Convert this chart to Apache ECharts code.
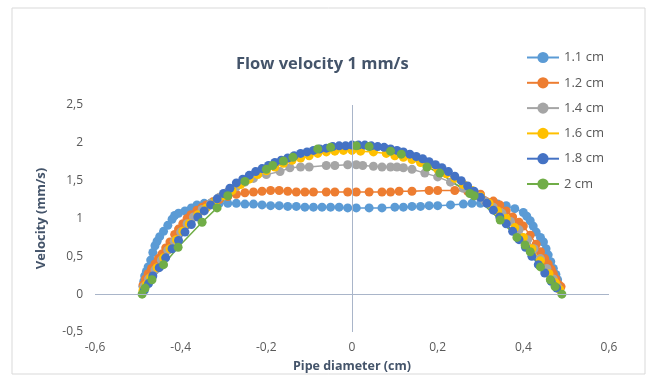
<!DOCTYPE html>
<html>
<head>
<meta charset="utf-8">
<script src="https://cdn.jsdelivr.net/npm/echarts@6/dist/echarts.min.js"></script>
<style>
  html, body { margin: 0; padding: 0; background: #fff; }
  #chart { width: 648px; height: 378px; }
</style>
</head>
<body>
<div id="chart"></div>
<script>
// [pipe diameter (cm), velocity (mm/s)]
const series11 = [[-0.488,0.1],[-0.486,0.17],[-0.484,0.24],[-0.48,0.3],[-0.476,0.36],[-0.47,0.45],[-0.465,0.55],[-0.46,0.64],[-0.455,0.7],[-0.449,0.76],[-0.44,0.83],[-0.43,0.91],[-0.42,0.99],[-0.414,1.04],[-0.405,1.07],[-0.39,1.1],[-0.375,1.14],[-0.362,1.18],[-0.345,1.2],[-0.33,1.2],[-0.31,1.2],[-0.29,1.2],[-0.27,1.2],[-0.25,1.19],[-0.23,1.19],[-0.21,1.18],[-0.19,1.17],[-0.17,1.17],[-0.15,1.16],[-0.13,1.16],[-0.11,1.15],[-0.09,1.15],[-0.07,1.15],[-0.05,1.15],[-0.03,1.15],[-0.01,1.14],[0.01,1.14],[0.04,1.14],[0.07,1.14],[0.1,1.15],[0.12,1.15],[0.14,1.16],[0.16,1.16],[0.18,1.17],[0.2,1.17],[0.23,1.18],[0.26,1.19],[0.28,1.2],[0.3,1.2],[0.32,1.2],[0.34,1.19],[0.36,1.17],[0.38,1.13],[0.4,1.08],[0.408,1.03],[0.416,0.97],[0.423,0.9],[0.43,0.82],[0.44,0.75],[0.447,0.69],[0.453,0.6],[0.458,0.52],[0.464,0.43],[0.47,0.34],[0.476,0.26],[0.48,0.19],[0.486,0.08]];
const series12 = [[-0.488,0.12],[-0.482,0.2],[-0.476,0.27],[-0.468,0.34],[-0.46,0.4],[-0.452,0.47],[-0.444,0.53],[-0.435,0.61],[-0.425,0.69],[-0.414,0.79],[-0.405,0.86],[-0.395,0.93],[-0.385,1.0],[-0.376,1.05],[-0.362,1.11],[-0.35,1.15],[-0.34,1.18],[-0.325,1.22],[-0.31,1.25],[-0.29,1.29],[-0.27,1.32],[-0.25,1.34],[-0.23,1.35],[-0.21,1.36],[-0.19,1.37],[-0.17,1.37],[-0.15,1.36],[-0.13,1.35],[-0.11,1.35],[-0.09,1.35],[-0.06,1.35],[-0.04,1.35],[-0.01,1.35],[0.01,1.35],[0.04,1.35],[0.07,1.35],[0.09,1.35],[0.11,1.36],[0.14,1.36],[0.18,1.37],[0.2,1.37],[0.24,1.37],[0.27,1.36],[0.3,1.32],[0.33,1.23],[0.345,1.18],[0.36,1.1],[0.375,1.02],[0.39,0.95],[0.4,0.9],[0.416,0.78],[0.43,0.66],[0.44,0.56],[0.45,0.47],[0.458,0.4],[0.465,0.33],[0.47,0.27],[0.476,0.2],[0.482,0.13],[0.488,0.1]];
const series14 = [[-0.486,0.1],[-0.475,0.2],[-0.46,0.32],[-0.445,0.45],[-0.43,0.58],[-0.415,0.7],[-0.4,0.82],[-0.385,0.93],[-0.37,1.02],[-0.35,1.12],[-0.33,1.2],[-0.31,1.28],[-0.29,1.35],[-0.27,1.42],[-0.25,1.48],[-0.23,1.53],[-0.2,1.58],[-0.168,1.62],[-0.145,1.67],[-0.12,1.68],[-0.1,1.68],[-0.06,1.7],[-0.04,1.7],[-0.01,1.71],[0.01,1.71],[0.025,1.7],[0.05,1.69],[0.07,1.68],[0.09,1.68],[0.105,1.68],[0.12,1.67],[0.14,1.65],[0.17,1.6],[0.2,1.55],[0.23,1.48],[0.26,1.4],[0.29,1.3],[0.31,1.23],[0.33,1.15],[0.35,1.07],[0.37,0.96],[0.39,0.85],[0.41,0.72],[0.425,0.6],[0.44,0.47],[0.455,0.34],[0.47,0.2],[0.48,0.1]];
const series16 = [[-0.488,0.05],[-0.48,0.13],[-0.47,0.22],[-0.455,0.35],[-0.44,0.48],[-0.425,0.6],[-0.41,0.72],[-0.395,0.83],[-0.38,0.93],[-0.36,1.05],[-0.34,1.14],[-0.32,1.22],[-0.3,1.3],[-0.28,1.37],[-0.26,1.45],[-0.24,1.52],[-0.22,1.58],[-0.2,1.63],[-0.18,1.68],[-0.16,1.73],[-0.14,1.77],[-0.12,1.8],[-0.1,1.83],[-0.08,1.86],[-0.06,1.88],[-0.04,1.89],[-0.02,1.9],[0.0,1.9],[0.02,1.89],[0.05,1.88],[0.08,1.86],[0.1,1.83],[0.12,1.81],[0.14,1.78],[0.16,1.74],[0.18,1.7],[0.2,1.65],[0.22,1.59],[0.24,1.53],[0.26,1.45],[0.28,1.37],[0.3,1.29],[0.32,1.2],[0.34,1.1],[0.36,1.0],[0.38,0.88],[0.4,0.75],[0.42,0.6],[0.44,0.44],[0.46,0.27],[0.475,0.15],[0.485,0.06]];
const series18 = [[-0.485,0.05],[-0.475,0.14],[-0.465,0.24],[-0.45,0.35],[-0.435,0.48],[-0.42,0.6],[-0.405,0.71],[-0.39,0.82],[-0.375,0.92],[-0.36,1.02],[-0.345,1.1],[-0.33,1.18],[-0.315,1.26],[-0.3,1.33],[-0.285,1.4],[-0.27,1.47],[-0.255,1.52],[-0.24,1.57],[-0.225,1.62],[-0.21,1.66],[-0.195,1.7],[-0.18,1.74],[-0.165,1.77],[-0.15,1.8],[-0.135,1.83],[-0.12,1.86],[-0.105,1.88],[-0.09,1.9],[-0.075,1.92],[-0.06,1.93],[-0.045,1.95],[-0.03,1.96],[-0.015,1.96],[0.0,1.97],[0.015,1.97],[0.03,1.97],[0.045,1.96],[0.06,1.95],[0.075,1.94],[0.09,1.92],[0.105,1.9],[0.12,1.88],[0.135,1.85],[0.15,1.82],[0.165,1.79],[0.18,1.75],[0.195,1.71],[0.21,1.67],[0.225,1.62],[0.24,1.56],[0.255,1.5],[0.27,1.43],[0.285,1.36],[0.3,1.28],[0.315,1.2],[0.33,1.11],[0.345,1.02],[0.36,0.93],[0.375,0.83],[0.39,0.72],[0.405,0.62],[0.42,0.5],[0.435,0.39],[0.45,0.28],[0.465,0.17],[0.478,0.08]];
const series20 = [[-0.49,0],[-0.483,0.08],[-0.467,0.19],[-0.44,0.39],[-0.406,0.62],[-0.35,0.95],[-0.315,1.14],[-0.29,1.3],[-0.25,1.49],[-0.2,1.65],[-0.185,1.7],[-0.16,1.76],[-0.138,1.81],[-0.08,1.92],[-0.05,1.94],[0.01,1.96],[0.04,1.95],[0.09,1.89],[0.115,1.85],[0.175,1.68],[0.205,1.6],[0.275,1.33],[0.285,1.3],[0.346,0.98],[0.385,0.75],[0.404,0.65],[0.416,0.56],[0.44,0.36],[0.463,0.19],[0.474,0.1],[0.49,0]];

const seriesNames = ['1.1 cm', '1.2 cm', '1.4 cm', '1.6 cm', '1.8 cm', '2 cm'];
const seriesColors = ['#5B9BD5', '#ED7D31', '#A5A5A5', '#FFC000', '#4472C4', '#70AD47'];
const seriesData = [series11, series12, series14, series16, series18, series20];

const fontFam = '"Open Sans", "Noto Sans", sans-serif';
const comma = v => String(Number(v.toFixed(1))).replace('.', ',');

const chart = echarts.init(document.getElementById('chart'), null, { renderer: 'canvas' });

const lineSeries = seriesData.map((d, i) => ({
  name: seriesNames[i],
  type: 'line',
  data: d,
  symbol: 'circle',
  symbolSize: 9,
  smooth: false,
  z: 3,
  itemStyle: { color: seriesColors[i] },
  lineStyle: { color: seriesColors[i], width: 1.5 }
}));

// zero lines (Excel draws the axes crossing at 0)
const zeroLines = {
  name: 'zero',
  type: 'line',
  data: [],
  z: 1,
  silent: true,
  markLine: {
    silent: true,
    symbol: 'none',
    label: { show: false },
    lineStyle: { color: '#A9B5C9', width: 1, type: 'solid' },
    data: [{ xAxis: 0 }, { yAxis: 0 }]
  }
};

chart.setOption({
  animation: false,
  backgroundColor: '#fff',
  graphic: [{
    type: 'rect',
    shape: { x: 12, y: 8, width: 633, height: 366 },
    style: { fill: 'none', stroke: '#D9D9D9', lineWidth: 1 }
  }],
  title: {
    text: 'Flow velocity 1 mm/s',
    left: 231,
    top: 51,
    textStyle: { fontFamily: fontFam, fontSize: 16.5, fontWeight: 'bold', color: '#44546A' }
  },
  legend: {
    data: seriesNames,
    orient: 'vertical',
    left: 521,
    top: 46,
    itemWidth: 32,
    itemHeight: 14,
    itemGap: 12.3,
    textStyle: { fontFamily: fontFam, fontSize: 13, color: '#595959' }
  },
  grid: { left: 95, right: 39, top: 105, bottom: 41, containLabel: false },
  xAxis: {
    type: 'value',
    min: -0.6,
    max: 0.6,
    interval: 0.2,
    name: 'Pipe diameter (cm)',
    nameLocation: 'middle',
    nameGap: 28,
    nameTextStyle: { fontFamily: fontFam, fontSize: 12.5, fontWeight: 'bold', color: '#44546A' },
    axisLine: { show: false, onZero: false },
    axisTick: { show: false },
    splitLine: { show: false },
    axisLabel: { formatter: comma, margin: 10, fontFamily: fontFam, fontSize: 12, color: '#595959' }
  },
  yAxis: {
    type: 'value',
    min: -0.5,
    max: 2.5,
    interval: 0.5,
    name: 'Velocity (mm/s)',
    nameLocation: 'middle',
    nameGap: 47,
    nameTextStyle: { fontFamily: fontFam, fontSize: 13, fontWeight: 'bold', color: '#44546A' },
    axisLine: { show: false, onZero: false },
    axisTick: { show: false },
    splitLine: { show: false },
    axisLabel: { formatter: comma, margin: 12, fontFamily: fontFam, fontSize: 12, color: '#595959' }
  },
  series: [zeroLines].concat(lineSeries)
});
</script>
</body>
</html>
